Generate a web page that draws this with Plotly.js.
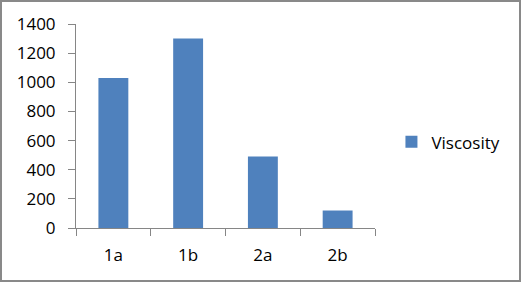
<!DOCTYPE html>
<html>
<head>
<meta charset="utf-8">
<script src="https://cdn.plot.ly/plotly-3.0.1.min.js"></script>
<style>
html,body{margin:0;padding:0;background:#fff;}
#wrap{position:relative;width:521px;height:282px;}
#chart{position:absolute;left:0;top:0;width:521px;height:282px;}
#frame{position:absolute;left:0;top:0;width:521px;height:282px;box-sizing:border-box;border:2px solid #898989;pointer-events:none;}
</style>
</head>
<body>
<div id="wrap"><div id="chart"></div><div id="frame"></div></div>
<script>
const categories = ["1a", "1b", "2a", "2b"];
const viscosity = [1030, 1300, 490, 120];
const seriesName = "Viscosity";
const yTicks = [0, 200, 400, 600, 800, 1000, 1200, 1400];

const font = {family: "Open Sans, Liberation Sans, sans-serif", size: 17, color: "#000"};

Plotly.newPlot("chart", [{
  type: "bar",
  x: categories,
  y: viscosity,
  name: seriesName,
  marker: {color: "#4f81bd"},
  showlegend: true
}], {
  width: 521, height: 282,
  margin: {l: 76, r: 146, t: 24, b: 54, pad: 0, autoexpand: false},
  paper_bgcolor: "#fff", plot_bgcolor: "#fff",
  font: font,
  bargap: 0.6,
  showlegend: true,
  legend: {x: 1.055, y: 0.42, xanchor: "left", yanchor: "middle", font: font, bgcolor: "rgba(0,0,0,0)"},
  xaxis: {
    type: "category",
    showline: true, linecolor: "#868686", linewidth: 1,
    ticks: "outside", tickson: "boundaries", ticklen: 7, tickcolor: "#868686",
    ticklabelstandoff: 12,
    showgrid: false, zeroline: false, tickfont: font
  },
  yaxis: {
    range: [0, 1400], tickvals: yTicks, ticktext: yTicks.map(String),
    showline: true, linecolor: "#868686", linewidth: 1,
    ticks: "outside", ticklen: 7, tickcolor: "#868686",
    ticklabelstandoff: 9,
    showgrid: false, zeroline: false, tickfont: font
  }
}, {displayModeBar: false, staticPlot: true});
</script>
</body>
</html>
